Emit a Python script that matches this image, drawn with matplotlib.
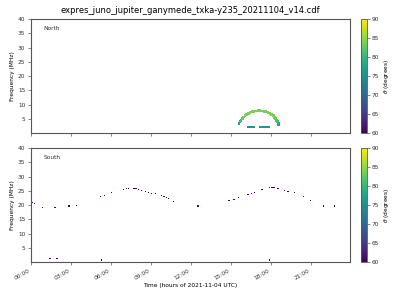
import numpy as np
import matplotlib
matplotlib.use("Agg")
import matplotlib.pyplot as plt
import matplotlib.dates as mdates
from matplotlib.colors import Normalize
from datetime import datetime, timedelta

TITLE = "expres_juno_jupiter_ganymede_txka-y235_20211104_v14.cdf"
DAY = datetime(2021, 11, 4)

# North hemisphere: arc of emission (hours, MHz, theta deg)
north_t = [15.63, 15.70, 15.78, 15.87, 15.97, 16.08, 16.20, 16.32, 16.45, 16.60,
           16.75, 16.90, 17.05, 17.20, 17.35, 17.50, 17.65, 17.80, 17.95, 18.08,
           18.20, 18.30, 18.38, 18.45, 18.52, 18.58, 18.62,
           16.30, 16.40, 16.50, 16.60, 16.70, 16.78,
           17.18, 17.28, 17.38, 17.48, 17.58, 17.68, 17.78, 17.86]
north_f = [3.5, 4.1, 4.6, 5.2, 5.7, 6.2, 6.6, 7.0, 7.3, 7.5,
           7.7, 7.8, 7.85, 7.85, 7.8, 7.7, 7.5, 7.3, 7.0, 6.6,
           6.1, 5.6, 5.1, 4.6, 4.0, 3.4, 2.9,
           2.3, 2.3, 2.3, 2.3, 2.3, 2.3,
           2.3, 2.3, 2.3, 2.3, 2.3, 2.3, 2.3, 2.3]
north_th = [77, 79, 81, 82.5, 83.5, 84, 84, 84, 84, 84,
            84, 84, 84, 84, 84, 84, 84, 84, 84, 84,
            84, 83.5, 83, 82, 81, 79, 77,
            76, 76, 76, 76, 76, 76,
            76, 76, 76, 76, 76, 76, 76, 76]

# South hemisphere: sparse detections
south_t = [0.08, 0.25, 0.85, 1.75, 1.85, 2.80, 2.90, 3.43, 5.25, 5.50,
           6.05, 6.93, 7.20, 7.35, 7.73, 7.88, 8.10, 8.33, 8.58, 8.83,
           9.08, 9.33, 9.83, 10.00, 10.20, 10.35, 10.70, 12.55, 14.88, 15.25,
           15.60, 16.30, 16.55, 16.80, 17.35, 17.93, 18.05, 18.18, 18.30, 18.55,
           19.05, 19.30, 19.80, 20.48, 21.00, 22.00, 22.80,
           1.37, 1.42, 1.93, 1.98, 5.27, 17.90]
south_f = [20.8, 20.5, 19.3, 19.3, 19.3, 19.7, 19.7, 20.0, 23.1, 23.5,
           24.3, 25.6, 25.9, 25.9, 25.9, 25.9, 25.6, 25.2, 24.9, 24.5,
           24.2, 24.0, 23.3, 22.9, 22.6, 22.2, 21.2, 19.7, 21.5, 22.1,
           22.7, 23.8, 24.2, 24.5, 25.6, 26.3, 26.3, 26.3, 26.3, 25.9,
           25.2, 24.9, 24.3, 23.1, 21.7, 19.7, 19.7,
           1.3, 1.3, 1.3, 1.3, 0.8, 0.8]
south_th = [60.0] * len(south_t)

YTICKS = [5, 10, 15, 20, 25, 30, 35, 40]
CBAR_TICKS = [60, 65, 70, 75, 80, 85, 90]

FS = 4.2


def to_dt(hours):
    return [DAY + timedelta(hours=h) for h in hours]


fig = plt.figure(figsize=(4, 3), dpi=100)
norm = Normalize(vmin=60, vmax=90)

north_s = [4.0 if f > 2.5 else 1.5 for f in north_f]
panels = [
    ("North", north_t, north_f, north_th, north_s, 0.5557),
    ("South", south_t, south_f, south_th, 0.8, 0.1257),
]

for i, (name, t, f, th, size, bottom) in enumerate(panels):
    ax = fig.add_axes([0.0775, bottom, 0.7975, 0.381])
    cax = fig.add_axes([0.9018, bottom, 0.015, 0.381])
    sc = ax.scatter(to_dt(t), f, c=th, cmap="viridis", norm=norm,
                    marker="s", s=size, linewidths=0)
    ax.set_xlim(DAY, DAY + timedelta(hours=23, minutes=58))
    ax.set_ylim(0, 40)
    ax.set_yticks(YTICKS)
    ax.set_ylabel("Frequency (MHz)", fontsize=FS, labelpad=2)
    ax.text(0.04, 0.9, name, transform=ax.transAxes, fontsize=FS,
            color="#333333")
    ax.xaxis.set_major_locator(mdates.HourLocator(byhour=range(0, 24, 3)))
    ax.xaxis.set_major_formatter(mdates.DateFormatter("%H:%M"))
    ax.tick_params(labelsize=FS, length=2.5, width=0.5, pad=1.5,
                   color="#555555", labelcolor="#333333")
    for sp in ax.spines.values():
        sp.set_color("#555555")
        sp.set_linewidth(0.8)
    if i == 0:
        ax.tick_params(labelbottom=False)
        ax.set_title(TITLE, fontsize=6, pad=4)
    else:
        for lab in ax.get_xticklabels():
            lab.set_rotation(30)
            lab.set_ha("right")
        ax.set_xlabel("Time (hours of 2021-11-04 UTC)", fontsize=FS,
                      labelpad=2)
    cb = fig.colorbar(sc, cax=cax, ticks=CBAR_TICKS)
    cb.set_label(r"$\theta$ (degrees)", fontsize=FS, labelpad=2)
    cb.ax.tick_params(labelsize=FS, length=2, width=0.5, pad=1.5,
                      color="#555555", labelcolor="#333333")
    cb.outline.set_edgecolor("#555555")
    cb.outline.set_linewidth(0.6)

fig.savefig("out.png", dpi=100)
